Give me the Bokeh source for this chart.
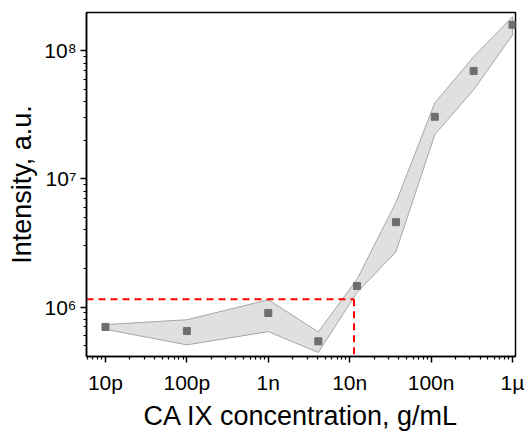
from bokeh.plotting import figure
from bokeh.models import FixedTicker, Range1d
from bokeh.embed import file_html
from bokeh.resources import INLINE

# data
conc = [1e-11, 1e-10, 1e-9, 4.12e-9, 1.23e-8, 3.7e-8, 1.11e-7, 3.33e-7, 1e-6]
intensity = [7.0e5, 6.5e5, 9.0e5, 5.4e5, 1.46e6, 4.6e6, 3.06e7, 6.98e7, 1.6e8]
upper = [7.3e5, 7.96e5, 1.14e6, 6.4e5, 1.65e6, 6.55e6, 3.92e7, 9.0e7, 1.85e8]
lower = [6.7e5, 5.07e5, 6.43e5, 4.42e5, 1.3e6, 2.7e6, 2.22e7, 4.97e7, 1.33e8]
lod_conc = 1.13e-8
lod_int = 1.15e6

x_ticks = [1e-11, 1e-10, 1e-9, 1e-8, 1e-7, 1e-6]
x_labels = ["10p", "100p", "1n", "10n", "100n", "1µ"]
y_ticks = [1e6, 1e7, 1e8]
y_labels = ["10⁶", "10⁷", "10⁸"]

FONT = "Liberation Sans"

x_lo, x_hi = 10**-11.233, 10**-5.963
y_lo, y_hi = 10**5.614, 10**8.300

p = figure(width=525, height=433, x_axis_type="log", y_axis_type="log",
           x_range=Range1d(x_lo, x_hi), y_range=Range1d(y_lo, y_hi),
           output_backend="svg", toolbar_location=None,
           min_border_left=86, min_border_right=10, min_border_top=12, min_border_bottom=75)

p.xgrid.visible = False
p.ygrid.visible = False
p.outline_line_color = "black"
p.outline_line_width = 1.5
p.outline_line_alpha = 1.0

# band
p.patch(conc + conc[::-1], upper + lower[::-1], fill_color="#e0e0e0",
        line_color="#a6a6a6", line_width=1)

# LOD dashed lines
p.line([x_lo, lod_conc], [lod_int, lod_int], line_color="#ff0000",
       line_width=2, line_dash="7 5")
p.line([lod_conc, lod_conc], [lod_int, y_lo], line_color="#ff0000",
       line_width=2, line_dash="7 5")

# points
p.scatter(conc, intensity, marker="square", size=7, fill_color="#6e6e6e",
          line_color="#6e6e6e")

minor_x = [m * 10.0**e for e in range(-12, -5) for m in range(2, 10)]
minor_y = [m * 10.0**e for e in range(5, 9) for m in range(2, 10)]
p.xaxis.ticker = FixedTicker(ticks=x_ticks, minor_ticks=minor_x)
p.yaxis.ticker = FixedTicker(ticks=y_ticks, minor_ticks=minor_y)
p.xaxis.major_label_overrides = {t: l for t, l in zip(x_ticks, x_labels)}
p.yaxis.major_label_overrides = {t: l for t, l in zip(y_ticks, y_labels)}

for ax in (p.xaxis[0], p.yaxis[0]):
    ax.axis_line_width = 1.5
    ax.axis_line_color = "black"
    ax.major_tick_line_width = 1.5
    ax.minor_tick_line_width = 1.2
    ax.major_tick_out = 6
    ax.major_tick_in = 0
    ax.minor_tick_out = 3
    ax.minor_tick_in = 0
    ax.major_label_text_font = FONT
    ax.major_label_text_font_size = "21px"
    ax.major_label_text_color = "black"
    ax.axis_label_text_font = FONT
    ax.axis_label_text_font_size = "27px"
    ax.axis_label_text_font_style = "normal"
    ax.axis_label_text_color = "black"

p.xaxis.axis_label = "CA IX concentration, g/mL"
p.yaxis.axis_label = "Intensity, a.u."
p.xaxis.major_label_standoff = 8
p.yaxis.major_label_standoff = 4
p.xaxis.axis_label_standoff = 4
p.yaxis.axis_label_standoff = 4

open("out.html", "w").write(file_html(p, INLINE))
